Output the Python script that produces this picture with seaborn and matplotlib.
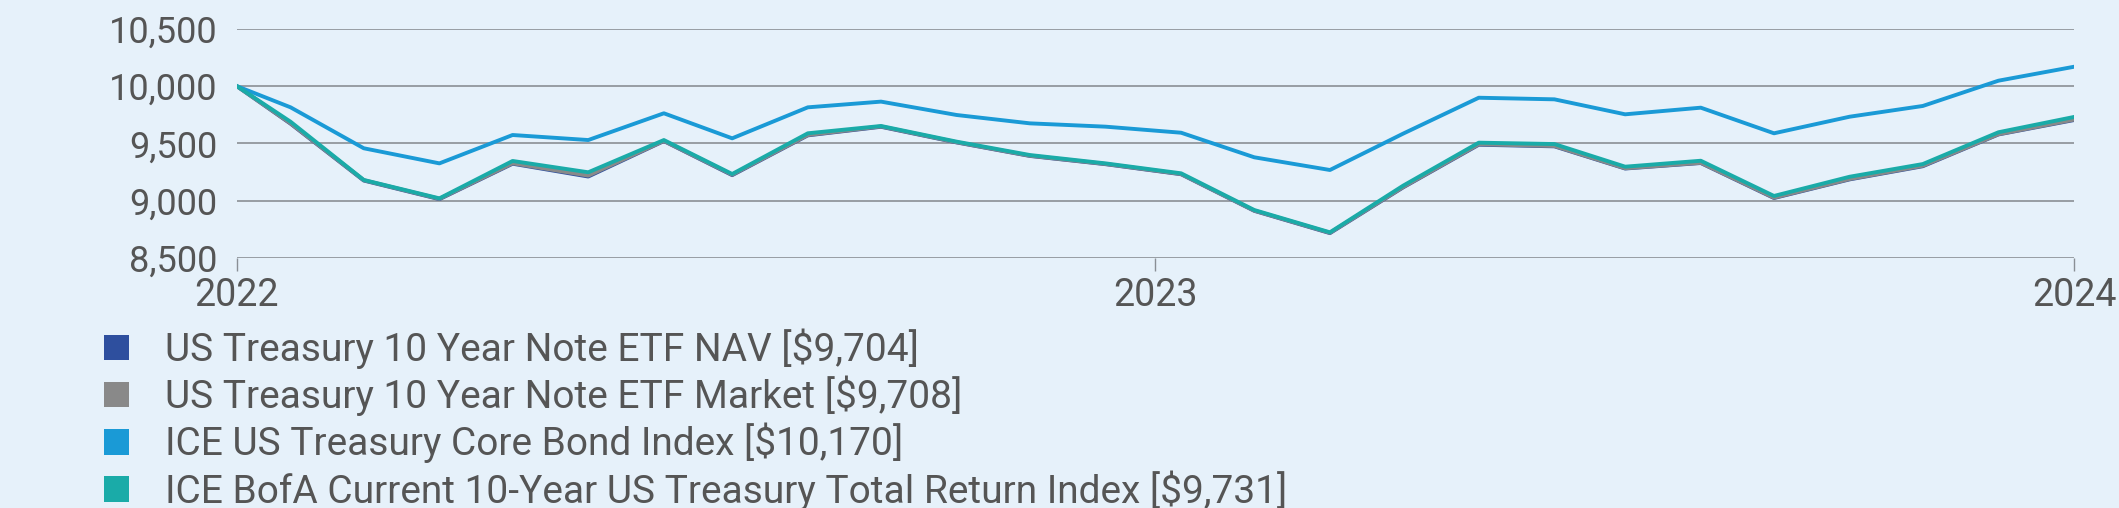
import numpy as np
import pandas as pd
import matplotlib.pyplot as plt
import seaborn as sns
from matplotlib.patches import Patch

# dates: fund start then month ends
dates = ['2022-08-09'] + [d.strftime('%Y-%m-%d') for d in pd.date_range('2022-08-31', '2024-08-31', freq='ME')]

nav = [10000, 9672, 9175, 9012, 9322, 9210, 9520, 9222, 9570, 9645, 9508, 9390, 9318, 9230,
       8910, 8715, 9115, 9488, 9474, 9280, 9328, 9022, 9185, 9300, 9578, 9704]
market = [10000, 9675, 9178, 9015, 9326, 9218, 9522, 9226, 9573, 9648, 9510, 9392, 9320, 9232,
          8912, 8718, 9118, 9492, 9477, 9282, 9330, 9025, 9188, 9304, 9580, 9708]
core_bond = [10000, 9815, 9457, 9325, 9573, 9529, 9763, 9544, 9815, 9865, 9748, 9675, 9646, 9593,
             9378, 9267, 9585, 9899, 9885, 9754, 9812, 9588, 9733, 9827, 10048, 10170]
bofa = [10000, 9689, 9180, 9019, 9346, 9247, 9529, 9232, 9588, 9652, 9515, 9398, 9325, 9238,
        8917, 8722, 9130, 9506, 9494, 9296, 9348, 9040, 9208, 9319, 9597, 9731]

series_names = ['US Treasury 10 Year Note ETF NAV [$9,704]',
                'US Treasury 10 Year Note ETF Market [$9,708]',
                'ICE US Treasury Core Bond Index [$10,170]',
                'ICE BofA Current 10-Year US Treasury Total Return Index [$9,731]']
colors = ['#2e4f9e', '#898989', '#1a9ad6', '#1aaba8']
year_labels = ['2022', '2023', '2024']
y_ticks = [8500, 9000, 9500, 10000, 10500]

df = pd.DataFrame({'date': pd.to_datetime(dates), series_names[0]: nav, series_names[1]: market,
                   series_names[2]: core_bond, series_names[3]: bofa})
long = df.melt(id_vars='date', var_name='series', value_name='value')

bg = '#e6f1fa'
txt = '#555555'
plt.rcParams['font.family'] = ['Roboto', 'DejaVu Sans']

fig = plt.figure(figsize=(21.19, 5.08), dpi=100, facecolor=bg)
ax = fig.add_axes([0.1118, 0.4927, 0.8670, 0.4502])
ax.set_facecolor(bg)

sns.lineplot(data=long, x='date', y='value', hue='series', hue_order=series_names,
             palette=colors, linewidth=2.8, legend=False, ax=ax)

ax.set_ylim(8500, 10500)
ax.set_yticks(y_ticks)
ax.set_yticklabels([f'{v:,}' for v in y_ticks])
d0, d1 = df['date'].iloc[0], df['date'].iloc[-1]
ax.set_xlim(d0, d1)
ax.set_xticks([d0, d0 + (d1 - d0) / 2, d1])
ax.set_xticklabels(year_labels)
ax.grid(axis='y', color='#8a8f95', linewidth=1.2)
ax.set_axisbelow(True)
for s in ax.spines.values():
    s.set_visible(False)
ax.tick_params(axis='y', length=0, pad=14, labelsize=26, labelcolor=txt)
ax.tick_params(axis='x', length=9, width=1, color='#8a8f95', pad=5, labelsize=27, labelcolor=txt)
ax.set_xlabel('')
ax.set_ylabel('')

handles = [Patch(facecolor=c, edgecolor='none') for c in colors]
fig.legend(handles, series_names, loc='upper left', bbox_to_anchor=(0.049, 0.353),
           frameon=False, fontsize=28, labelcolor=txt, handlelength=0.64, handleheight=0.64,
           handletextpad=0.93, labelspacing=0.17, borderpad=0, borderaxespad=0)

fig.savefig('out.png', dpi=100, facecolor=bg)
